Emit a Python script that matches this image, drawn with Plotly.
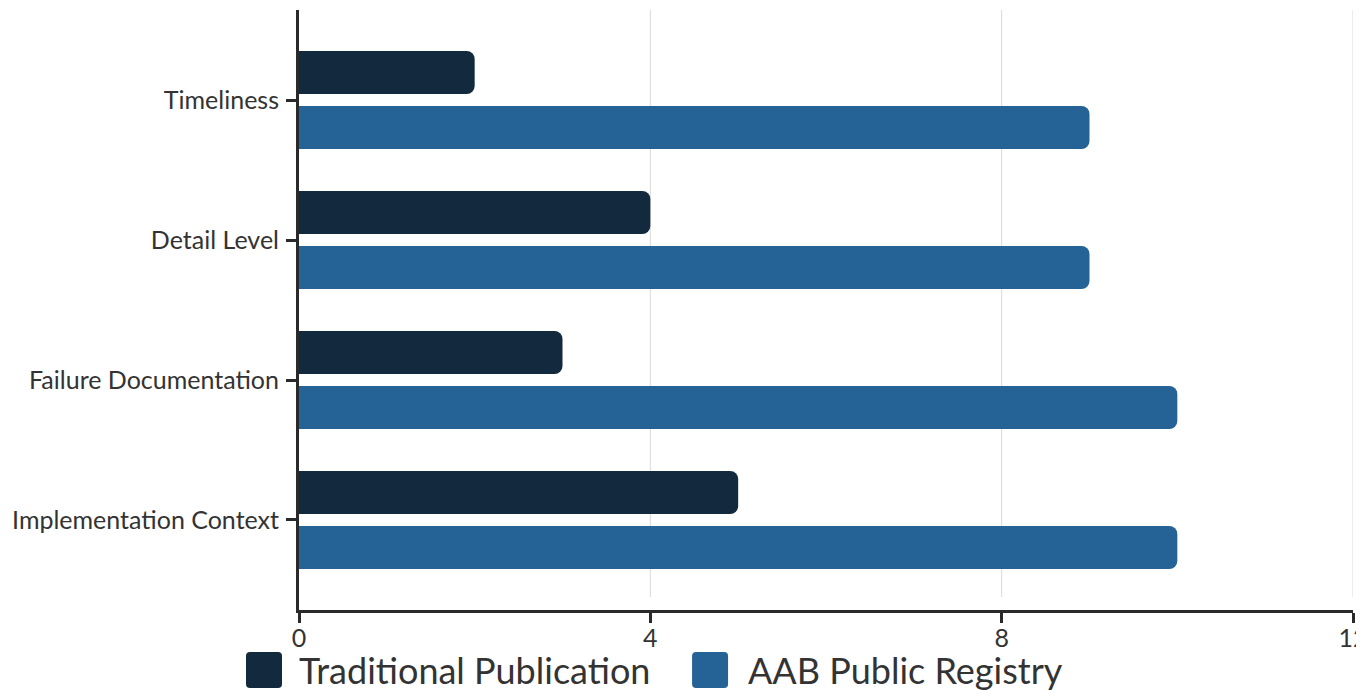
import plotly.graph_objects as go

categories = ["Timeliness", "Detail Level", "Failure Documentation", "Implementation Context"]
traditional = [2, 4, 3, 5]
aab_registry = [9, 9, 10, 10]
series_names = ["Traditional Publication", "AAB Public Registry"]
x_ticks = [0, 4, 8, 12]

colors = ["#13293D", "#256396"]

fig = go.Figure()
for name, vals, col in zip(series_names, [traditional, aab_registry], colors):
    fig.add_trace(go.Bar(
        y=categories, x=vals, name=name, orientation="h",
        marker=dict(color=col, line=dict(width=0)),
        showlegend=False,
    ))

# vertical gridlines (stop a little above the axis line, as in the reference)
for t in x_ticks[1:]:
    fig.add_shape(type="line", xref="x", yref="paper", x0=t, x1=t, y0=0.0217, y1=1,
                  line=dict(color="#d9d9d9", width=1), layer="below")

# custom legend with large rounded swatches (native legend symbols are too small)
swatch = ("M-14,-18 L14,-18 Q18,-18 18,-14 L18,14 Q18,18 14,18 L-14,18 "
          "Q-18,18 -18,14 L-18,-14 Q-18,-18 -14,-18 Z")
legend_sw_x = [-0.0332, 0.390]
legend_tx_x = [-0.002, 0.4245]
legend_y = -0.1
for name, col, sx, tx in zip(series_names, colors, legend_sw_x, legend_tx_x):
    fig.add_shape(type="path", path=swatch, xref="paper", yref="paper",
                  xsizemode="pixel", ysizemode="pixel", xanchor=sx, yanchor=legend_y,
                  fillcolor=col, line=dict(width=0))
    fig.add_annotation(text=name, x=tx, y=legend_y, xref="paper", yref="paper",
                       xanchor="left", yanchor="middle", showarrow=False,
                       font=dict(family="Lato", size=36, color="#333333"))

# page body has an 8px margin, so the figure is 16px smaller than the window
fig.update_layout(
    width=1356, height=682,
    margin=dict(l=291, r=11, t=2, b=80, autoexpand=False),
    paper_bgcolor="white", plot_bgcolor="white",
    font=dict(family="Lato", size=25, color="#333333"),
    barmode="group", bargap=0.214, bargroupgap=0.218,
    barcornerradius=8,
    xaxis=dict(range=[0, 12], tickvals=x_ticks, showgrid=False,
               showline=True, linecolor="#2a2a2a", linewidth=3,
               ticks="outside", ticklen=10, tickwidth=3, tickcolor="#2a2a2a",
               zeroline=False, tickfont=dict(size=25), automargin=False,
               ticklabeloverflow="allow", ticklabelstandoff=-6),
    yaxis=dict(categoryorder="array", categoryarray=categories,
               range=[3.643, -0.643], showgrid=False, showline=True,
               linecolor="#2a2a2a", linewidth=3, ticks="outside", ticklen=10,
               tickwidth=3, tickcolor="#2a2a2a", ticklabelstandoff=2,
               tickfont=dict(size=25), automargin=False),
)

fig.write_html("out.html")
